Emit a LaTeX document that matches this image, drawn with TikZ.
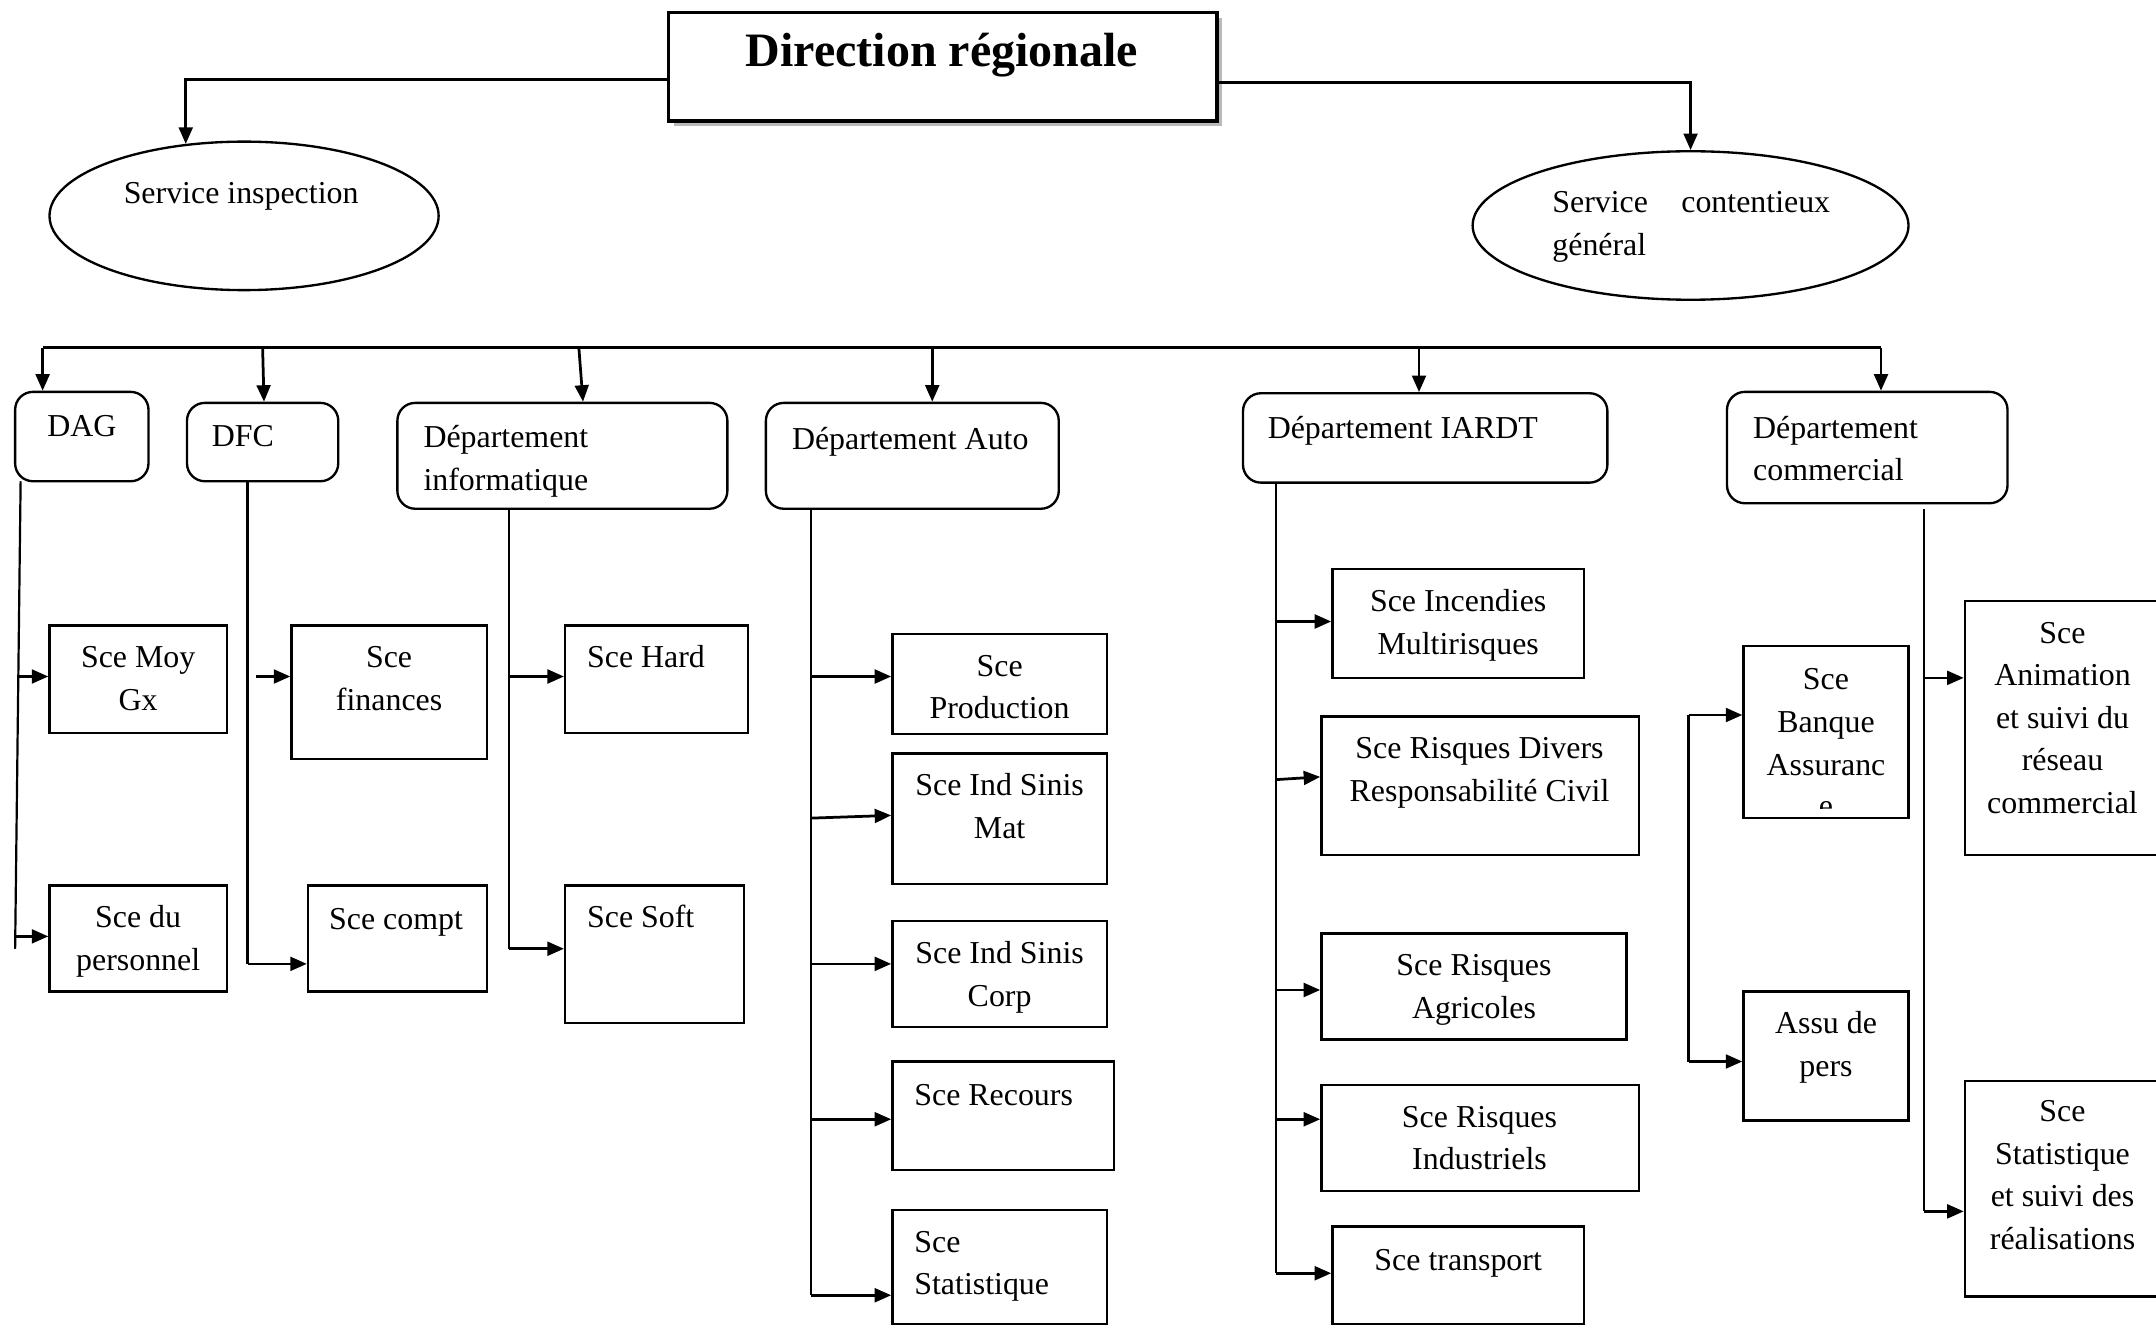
\documentclass[tikz,border=0pt]{standalone}
\usepackage{fontspec}
\setmainfont{Liberation Serif}
\usetikzlibrary{arrows.meta,fit,shapes.geometric,shadows}
\tikzset{
  box/.style={draw, inner sep=0pt, line width=1.7pt},
  deptbox/.style={box, rounded corners=13pt},
  svcbox/.style={box},
  txt/.style={inner sep=0pt, align=center, font=\fontsize{23.2}{31}\selectfont},
  txtl/.style={txt, align=left},
  arr/.style={line width=2pt, -{Triangle[length=12pt,width=10pt]}},
  trunk/.style={line width=1.6pt},
}
\begin{document}
\begin{tikzpicture}[x=1pt,y=-1pt,line width=2pt]
\useasboundingbox (0,0) rectangle (1568,965);
\clip (0,0) rectangle (1568,965);

% title
\node[box, line width=2.4pt, fill=white, fit={(486,9)(885,88)},
      drop shadow={shadow xshift=4pt, shadow yshift=-4pt, fill=gray!55, opacity=1}] (dr) {};
\node[inner sep=0pt, anchor=base, font=\fontsize{34.9}{40}\selectfont\bfseries] (drT) at (685,48.5) {Direction régionale};

% ellipses
\node[draw, ellipse, inner sep=0pt, line width=1.7pt, minimum width=283, minimum height=108] (si) at (177.5,157) {};
\node[txtl, anchor=north west] (siT) at (89,125) {\strut Service inspection};
\node[draw, ellipse, inner sep=0pt, line width=1.7pt, minimum width=317, minimum height=108] (sc) at (1229.5,164) {};
\node[txtl, anchor=north west] (scT) at (1128,132) {\strut\makebox[202pt][s]{Service contentieux}\\général};

\draw[arr] ([yshift=-9.5pt]dr.west) -| (si.129);
\draw[arr] ([yshift=-11.5pt]dr.east) -| (sc.north);

% departments
\node[deptbox, fit={(11,285)(108,350)}] (dag) {};
\node[txt, anchor=north] (dagT) at (59.5,295) {\strut DAG};
\node[deptbox, fit={(136,293)(246,350)}] (dfc) {};
\node[txtl, anchor=north west] (dfcT) at (153,302) {\strut DFC};
\node[deptbox, fit={(289,293)(529,370)}] (info) {};
\node[txtl, anchor=north west] (infoT) at (307,303) {\strut Département\\informatique};
\node[deptbox, fit={(557,293)(770,370)}] (auto) {};
\node[txtl, anchor=north west] (autoT) at (575,304) {\strut Département Auto};
\node[deptbox, fit={(904,286)(1169,351)}] (iardt) {};
\node[txtl, anchor=north west] (iardtT) at (921,296) {\strut Département IARDT};
\node[deptbox, fit={(1256,285)(1460,366)}] (com) {};
\node[txtl, anchor=north west] (comT) at (1274,296) {\strut Département\\commercial};

% bus
\coordinate (busL) at (31,253);
\coordinate (busR) at (1368,253);
\coordinate (b2) at (191,253);
\coordinate (b3) at (421,253);
\coordinate (b4) at (678,253);
\coordinate (b5) at (1032,253);
\draw (busL) -- (busR);
\draw[arr] (busL) -- (busL |- dag.north);
\draw[arr] (b2) -- ([xshift=1pt]dfc.north);
\draw[arr] (b3) -- ([xshift=15pt]info.north);
\draw[arr] (b4) -- (b4 |- auto.north);
\draw[arr] (b5) -- (b5 |- iardt.north);
\draw[arr] (busR) -- (busR |- com.north);

% DAG services
\node[svcbox, fit={(36,455)(165,533)}] (moy) {};
\node[txt, anchor=north] (moyT) at (100.5,463) {\strut Sce Moy\\Gx};
\node[svcbox, fit={(36,644)(165,721)}] (pers) {};
\node[txt, anchor=north] (persT) at (100.5,652) {\strut Sce du\\personnel};
\coordinate (dagA) at (15,350);
\coordinate (dagB) at (11,690);
\coordinate (dag1) at (13,492);
\coordinate (dag2) at (11,681);
\draw[trunk] (dagA) -- (dagB);
\draw[arr] (dag1) -- (dag1 -| moy.west);
\draw[arr] (dag2) -- (dag2 -| pers.west);

% DFC services
\node[svcbox, fit={(212,455)(354,552)}] (fin) {};
\node[txt, anchor=north] (finT) at (283,463) {\strut Sce\\finances};
\node[svcbox, fit={(224,644)(354,721)}] (compt) {};
\node[txt, anchor=north] (comptT) at (288,653) {\strut Sce compt};
\coordinate (dfcA) at (180,350);
\coordinate (dfc1) at (186,492);
\coordinate (dfc2) at (180,701);
\draw[trunk] (dfcA) -- (dfc2);
\draw[arr] (dfc2) -- (dfc2 -| compt.west);
\draw[arr] (dfc1) -- (dfc1 -| fin.west);

% informatique services
\node[svcbox, fit={(411,455)(544,533)}] (hard) {};
\node[txtl, anchor=north west] (hardT) at (426,463) {\strut Sce Hard};
\node[svcbox, fit={(411,644)(541,744)}] (soft) {};
\node[txtl, anchor=north west] (softT) at (426,652) {\strut Sce Soft};
\coordinate (infA) at (370,370);
\coordinate (inf1) at (370,492);
\coordinate (inf2) at (370,690);
\draw[trunk] (infA) -- (inf2);
\draw[arr] (inf1) -- (inf1 -| hard.west);
\draw[arr] (inf2) -- (inf2 -| soft.west);

% Auto services
\node[svcbox, fit={(649,461)(805,534)}] (prod) {};
\node[txt, anchor=north] (prodT) at (727,469) {\strut Sce\\Production};
\node[svcbox, fit={(649,548)(805,643)}] (mat) {};
\node[txt, anchor=north] (matT) at (727,556) {\strut Sce Ind Sinis\\Mat};
\node[svcbox, fit={(649,670)(805,747)}] (corp) {};
\node[txt, anchor=north] (corpT) at (727,678) {\strut Sce Ind Sinis\\Corp};
\node[svcbox, fit={(649,772)(810,851)}] (rec) {};
\node[txtl, anchor=north west] (recT) at (664,781) {\strut Sce Recours};
\node[svcbox, fit={(649,880)(805,963)}] (stat) {};
\node[txtl, anchor=north west] (statT) at (664,888) {\strut Sce\\Statistique};
\coordinate (auA) at (590,370);
\coordinate (au1) at (590,492);
\coordinate (au2) at (590,595);
\coordinate (au3) at (590,701);
\coordinate (au4) at (590,814);
\coordinate (au5) at (590,942);
\draw[trunk] (auA) -- (au5);
\draw[arr] (au1) -- (au1 -| prod.west);
\draw[arr] (au2) -- ([yshift=2pt]au2 -| mat.west);
\draw[arr] (au3) -- (au3 -| corp.west);
\draw[arr] (au4) -- (au4 -| rec.west);
\draw[arr] (au5) -- (au5 -| stat.west);

% IARDT services
\node[svcbox, fit={(969,414)(1152,493)}] (inc) {};
\node[txt, anchor=north] (incT) at (1060.5,422) {\strut Sce Incendies\\Multirisques};
\node[svcbox, fit={(961,521)(1192,622)}] (rdiv) {};
\node[txt, anchor=north] (rdivT) at (1076,529) {\strut Sce Risques Divers\\Responsabilité Civil};
\node[svcbox, fit={(961,679)(1183,756)}] (agr) {};
\node[txt, anchor=north] (agrT) at (1072,687) {\strut Sce Risques\\Agricoles};
\node[svcbox, fit={(961,789)(1192,866)}] (ind) {};
\node[txt, anchor=north] (indT) at (1076,797) {\strut Sce Risques\\Industriels};
\node[svcbox, fit={(969,892)(1152,963)}] (trans) {};
\node[txt, anchor=north] (transT) at (1060.5,901) {\strut Sce transport};
\coordinate (iaA) at (928,351);
\coordinate (ia1) at (928,452);
\coordinate (ia2) at (928,567);
\coordinate (ia3) at (928,720);
\coordinate (ia4) at (928,814);
\coordinate (ia5) at (928,926);
\draw[trunk] (iaA) -- (ia5);
\draw[arr] (ia1) -- (ia1 -| inc.west);
\draw[arr] (ia2) -- ([yshift=2pt]ia2 -| rdiv.west);
\draw[arr] (ia3) -- (ia3 -| agr.west);
\draw[arr] (ia4) -- (ia4 -| ind.west);
\draw[arr] (ia5) -- (ia5 -| trans.west);

% Banque / Assu bracket
\node[svcbox, fit={(1268,470)(1388,595)}] (banq) {};
\node[txt, anchor=north] (banqT) at (1328,479) {\strut Sce\\Banque\\Assuranc};
\begin{scope}
  \clip (1270,570) rectangle (1386,588);
  \node[txt, anchor=base] (banqE) at (1328,593.7) {e};
\end{scope}
\node[svcbox, fit={(1268,721)(1388,815)}] (assu) {};
\node[txt, anchor=north] (assuT) at (1328,729) {\strut Assu de\\pers};
\coordinate (brA) at (1228,520);
\coordinate (brB) at (1228,772);
\draw[trunk] (brA) -- (brB);
\draw[arr] (brA) -- (brA -| banq.west);
\draw[arr] (brB) -- (brB -| assu.west);

% commercial services
\node[svcbox, fit={(1429,437)(1580,622)}] (anim) {};
\node[txt, anchor=north] (animT) at (1500,445) {\strut Sce\\Animation\\et suivi du\\réseau\\commercial};
\node[svcbox, fit={(1429,786)(1580,943)}] (stat2) {};
\node[txt, anchor=north] (stat2T) at (1500,793) {\strut Sce\\Statistique\\et suivi des\\réalisations};
\coordinate (coA) at (1399,370);
\coordinate (co1) at (1399,493);
\coordinate (co2) at (1399,881);
\draw[trunk] (coA) -- (co2);
\draw[arr] (co1) -- (co1 -| anim.west);
\draw[arr] (co2) -- (co2 -| stat2.west);
\end{tikzpicture}
\end{document}
